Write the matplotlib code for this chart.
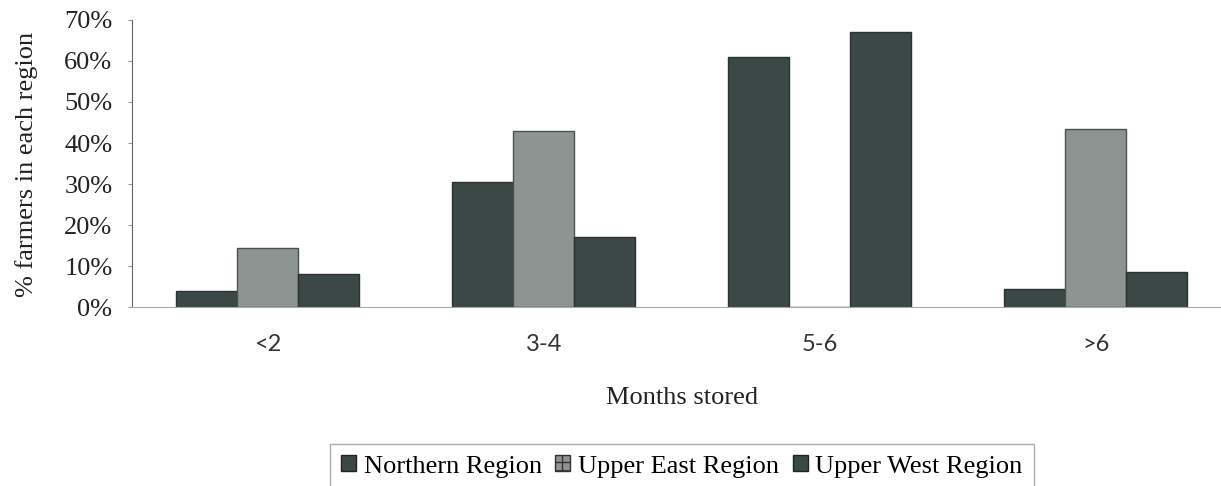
import matplotlib
matplotlib.use("Agg")
import matplotlib.pyplot as plt
import numpy as np
from matplotlib.patches import Patch

months = ["<2", "3-4", "5-6", ">6"]
northern = [4, 30.5, 61, 4.5]
upper_east = [14.5, 43, 0, 43.5]
upper_west = [8, 17, 67, 8.5]
series_names = ["Northern Region", "Upper East Region", "Upper West Region"]

plt.rcParams["font.family"] = ["Liberation Serif", "DejaVu Serif"]

fig = plt.figure(figsize=(12.21, 4.86), dpi=100)
ax = fig.add_axes([0.108, 0.368, 0.892, 0.591])

x = np.arange(len(months))
w = 0.221
dark, grey = "#3c4846", "#8d9492"
ax.bar(x - w, northern, w, color=dark, edgecolor="#2a3331", lw=1)
ax.bar(x, upper_east, w, color=grey, edgecolor="#4a5250", lw=1)
ax.bar(x + w, upper_west, w, color=dark, edgecolor="#2a3331", lw=1)

ax.set_xlim(-0.493, 3.453)
ax.set_ylim(0, 70)
ax.set_yticks(range(0, 71, 10))
ax.set_yticklabels([f"{v}%" for v in range(0, 71, 10)], fontsize=19, color="#222")
ax.set_xticks(x)
ax.set_xticklabels(months, fontsize=17, color="#333", family=["Lato", "DejaVu Sans"])
ax.tick_params(axis="x", length=0, pad=19)
ax.tick_params(axis="y", length=3, color="#999", pad=11)
for s in ["top", "right"]:
    ax.spines[s].set_visible(False)
ax.spines["left"].set_color("#666")
ax.spines["bottom"].set_color("#aaa")

fig.text(27 / 1221, 0.661, "% farmers in each region", fontsize=19, color="#222",
         rotation=90, ha="center", va="center")
fig.text(682 / 1221, 0.181, "Months stored", fontsize=19, ha="center", va="center", color="#222")

handles = [Patch(facecolor=dark, edgecolor="#222"),
           Patch(facecolor=grey, edgecolor="#333", hatch="++"),
           Patch(facecolor=dark, edgecolor="#222")]
leg = fig.legend(handles, series_names, loc="upper left",
                 bbox_to_anchor=(330 / 1221, 1 - 444 / 486),
                 ncol=3, fontsize=19, frameon=True, fancybox=False, handlelength=0.57,
                 handleheight=0.57, handletextpad=0.3, columnspacing=0.5,
                 borderpad=0.42, borderaxespad=0)
leg.get_frame().set_edgecolor("#999")
leg.get_frame().set_linewidth(1)

fig.savefig("out.png", dpi=100)
